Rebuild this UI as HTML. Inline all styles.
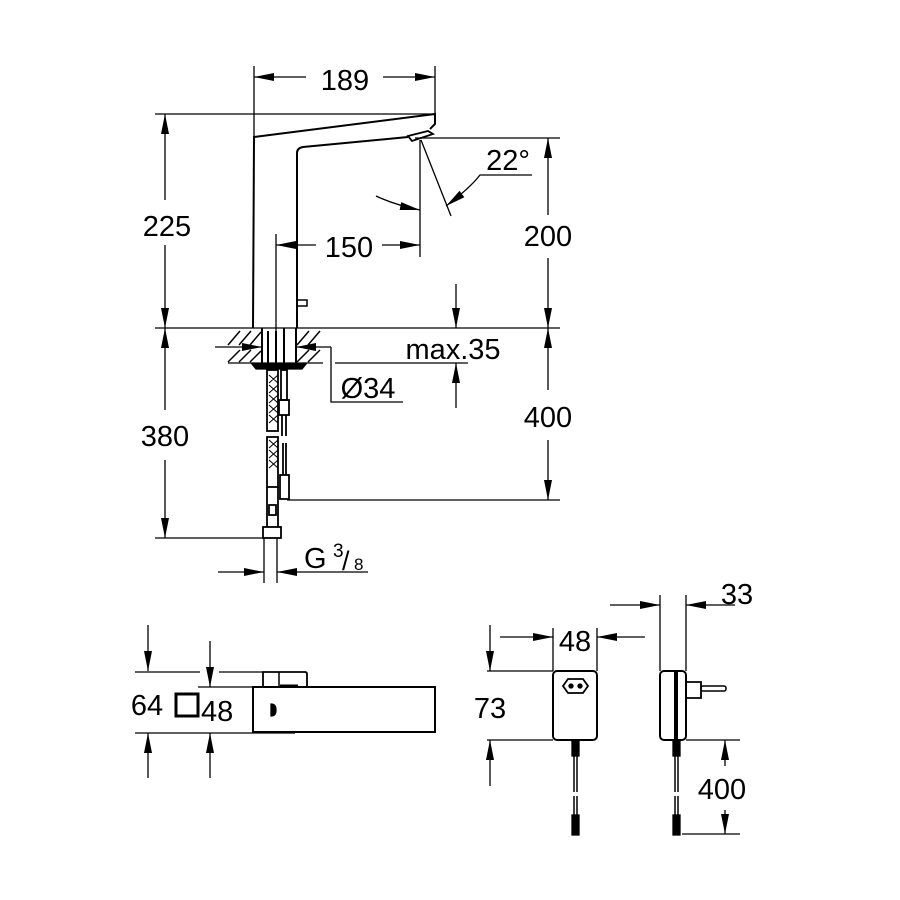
<!DOCTYPE html>
<html><head><meta charset="utf-8"><style>
html,body{margin:0;padding:0;background:#fff;}
svg{display:block;}
text{font-family:"Liberation Sans",Arial,sans-serif;fill:#000;}
</style></head><body>
<svg width="900" height="900" viewBox="0 0 900 900" xmlns="http://www.w3.org/2000/svg">
<defs>
<marker id="a" viewBox="0 0 20 8" refX="20" refY="4" markerWidth="20" markerHeight="8" markerUnits="userSpaceOnUse" orient="auto"><path d="M0,0 L20,4 L0,8 z" fill="#000"/></marker>
</defs>
<g stroke="#000" stroke-width="1.3" fill="none">
<!-- 189 -->
<line x1="254" y1="66" x2="254" y2="137"/>
<line x1="435" y1="66" x2="435" y2="114"/>
<line x1="306" y1="77" x2="254" y2="77" marker-end="url(#a)"/>
<line x1="383" y1="77" x2="435" y2="77" marker-end="url(#a)"/>
<!-- 225 -->
<line x1="155" y1="114" x2="435" y2="114"/>
<line x1="165" y1="200" x2="165" y2="114" marker-end="url(#a)"/>
<line x1="165" y1="245" x2="165" y2="328" marker-end="url(#a)"/>
<!-- faucet body -->
<path d="M253,328 L254,137 L435,114 L435,124 L430,129" stroke-width="2"/>
<path d="M297,328 L297,153 Q297,148 303,147 L408,137" stroke-width="2"/>
<path d="M408,136 L428,131 L433,134 L412,141 Z" stroke-width="1.8"/>
<path d="M297,300 L307,300 L307,306 L297,306" stroke-width="1.5"/>
<!-- 200 -->
<line x1="415" y1="138" x2="560" y2="138"/>
<line x1="548" y1="215" x2="548" y2="138" marker-end="url(#a)"/>
<line x1="548" y1="258" x2="548" y2="328" marker-end="url(#a)"/>
<!-- 150 -->
<line x1="420" y1="140" x2="420" y2="257"/>
<line x1="276" y1="234" x2="276" y2="335"/>
<line x1="316" y1="245" x2="276" y2="245" marker-end="url(#a)"/>
<line x1="382" y1="245" x2="420" y2="245" marker-end="url(#a)"/>
<!-- 22 deg -->
<line x1="421" y1="140" x2="451" y2="216"/>
<path d="M376,196 Q395,205 420,210" marker-end="url(#a)"/>
<path d="M532,175 L480,175 Q470,188 446,206" marker-end="url(#a)"/>
<!-- floor -->
<line x1="155" y1="328" x2="560" y2="328"/>
<path d="M228,345 L240,331 M239,345 L251,331 M250,345 L261,332 M228,362 L240,350 M239,362 L251,350 M250,362 L261,351 M297,345 L309,331 M308,345 L320,331 M297,362 L309,350 M308,362 L320,350" stroke-width="1.5"/>
<line x1="228" y1="363" x2="323" y2="363"/>
<line x1="262" y1="328" x2="262" y2="363" stroke-width="2"/>
<line x1="296" y1="328" x2="296" y2="363" stroke-width="2"/>
<line x1="268" y1="331" x2="268" y2="363" stroke-width="2"/>
<line x1="276" y1="331" x2="276" y2="363" stroke-width="2"/>
<line x1="284" y1="328" x2="284" y2="363" stroke-width="2"/>
<path d="M252,364 L306,364 L302,369 L256,369 Z" fill="#000"/>
<!-- max.35 -->
<line x1="456" y1="284" x2="456" y2="328" marker-end="url(#a)"/>
<line x1="456" y1="408" x2="456" y2="363" marker-end="url(#a)"/>
<line x1="335" y1="363" x2="468" y2="363"/>
<!-- Ø34 -->
<line x1="215" y1="347" x2="262" y2="347" marker-end="url(#a)"/>
<line x1="331" y1="347" x2="296" y2="347" marker-end="url(#a)"/>
<path d="M331,347 L331,402 L403,402"/>
<!-- hose -->
<g stroke-width="1.8">
<rect x="267" y="370" width="11" height="61"/>
<rect x="267" y="437" width="11" height="50"/>
<line x1="267" y1="487" x2="267" y2="527"/><line x1="278" y1="487" x2="278" y2="527"/>
<rect x="269" y="505" width="7" height="10"/>
<rect x="263" y="527" width="18" height="11"/>
<line x1="264" y1="538" x2="264" y2="583" stroke-width="1.3"/>
<line x1="277" y1="538" x2="277" y2="583" stroke-width="1.3"/>
<rect x="281" y="370" width="6" height="30"/>
<rect x="279" y="400" width="10" height="15"/>
<line x1="282" y1="415" x2="282" y2="436"/><line x1="286" y1="415" x2="286" y2="436"/>
<line x1="283" y1="443" x2="283" y2="475"/><line x1="286" y1="443" x2="286" y2="475"/>
<rect x="280" y="475" width="9" height="24"/>
</g>
<path d="M269,375 l9,8 M278,375 l-9,8 M269,385 l9,8 M278,385 l-9,8 M269,395 l9,8 M278,395 l-9,8 M269,405 l9,8 M278,405 l-9,8 M269,415 l9,8 M278,415 l-9,8 M269,440 l9,8 M278,440 l-9,8 M269,450 l9,8 M278,450 l-9,8 M269,460 l9,8 M278,460 l-9,8" stroke-width="1"/>
<!-- 380 -->
<line x1="165" y1="410" x2="165" y2="328" marker-end="url(#a)"/>
<line x1="165" y1="460" x2="165" y2="538" marker-end="url(#a)"/>
<line x1="155" y1="538" x2="266" y2="538"/>
<!-- 400 -->
<line x1="548" y1="390" x2="548" y2="328" marker-end="url(#a)"/>
<line x1="548" y1="440" x2="548" y2="500" marker-end="url(#a)"/>
<line x1="287" y1="500" x2="560" y2="500"/>
<!-- G3/8 -->
<line x1="218" y1="572" x2="264" y2="572" marker-end="url(#a)"/>
<line x1="368" y1="572" x2="277" y2="572" marker-end="url(#a)"/>

<!-- bottom left -->
<line x1="148" y1="625" x2="148" y2="671" marker-end="url(#a)"/>
<line x1="148" y1="778" x2="148" y2="733" marker-end="url(#a)"/>
<line x1="210" y1="641" x2="210" y2="687" marker-end="url(#a)"/>
<line x1="210" y1="778" x2="210" y2="733" marker-end="url(#a)"/>
<line x1="135" y1="672" x2="200" y2="672"/>
<line x1="219" y1="672" x2="263" y2="672"/>
<line x1="198" y1="687" x2="253" y2="687"/>
<line x1="135" y1="733" x2="295" y2="733"/>
<rect x="253" y="687" width="182" height="45" stroke-width="2"/>
<path d="M263,687 L263,672 L305,672 Q307,672 307,674 L307,687" stroke-width="1.8"/>
<line x1="279" y1="672" x2="279" y2="687" stroke-width="1.5"/>
<line x1="280" y1="686" x2="298" y2="686" stroke-width="3"/>
<rect x="176" y="694" width="22" height="22" stroke-width="3"/>
<path d="M271,704 Q276,704 276,710 Q276,716 271,716 Z" fill="#000"/>

<!-- power supply front -->
<line x1="553" y1="628" x2="553" y2="671"/>
<line x1="597" y1="628" x2="597" y2="671"/>
<line x1="500" y1="637" x2="553" y2="637" marker-end="url(#a)"/>
<line x1="645" y1="637" x2="597" y2="637" marker-end="url(#a)"/>
<line x1="490" y1="625" x2="490" y2="671" marker-end="url(#a)"/>
<line x1="490" y1="786" x2="490" y2="740" marker-end="url(#a)"/>
<line x1="487" y1="671" x2="553" y2="671"/>
<line x1="487" y1="740" x2="553" y2="740"/>
<rect x="553" y="671" width="44" height="69" rx="4" stroke-width="2"/>
<path d="M563,686 L568,679 L583,679 L588,686 L583,693 L568,693 Z" stroke-width="1.8"/>
<circle cx="571" cy="686" r="2" fill="#000"/><circle cx="580" cy="686" r="2" fill="#000"/>
<rect x="572" y="740" width="7" height="16" fill="#000"/>
<line x1="574" y1="756" x2="574" y2="792" stroke-width="1.5"/><line x1="577" y1="756" x2="577" y2="792" stroke-width="1.5"/>
<line x1="574" y1="796" x2="574" y2="815" stroke-width="1.5"/><line x1="577" y1="796" x2="577" y2="815" stroke-width="1.5"/>
<rect x="572" y="815" width="7" height="20" fill="#000"/>
<!-- side -->
<line x1="660" y1="595" x2="660" y2="671"/>
<line x1="686" y1="595" x2="686" y2="671"/>
<line x1="610" y1="605" x2="660" y2="605" marker-end="url(#a)"/>
<line x1="735" y1="605" x2="686" y2="605" marker-end="url(#a)"/>
<rect x="660" y="671" width="26" height="69" rx="4" stroke-width="2"/>
<line x1="676" y1="671" x2="676" y2="740" stroke-width="4"/>
<path d="M686,682 L701,682 L701,698 L686,698" stroke-width="1.8"/>
<rect x="701" y="686" width="25" height="5" rx="2" stroke-width="1.5"/>
<rect x="673" y="740" width="7" height="16" fill="#000"/>
<line x1="675" y1="756" x2="675" y2="792" stroke-width="1.5"/><line x1="678" y1="756" x2="678" y2="792" stroke-width="1.5"/>
<line x1="675" y1="796" x2="675" y2="815" stroke-width="1.5"/><line x1="678" y1="796" x2="678" y2="815" stroke-width="1.5"/>
<rect x="673" y="815" width="7" height="20" fill="#000"/>
<line x1="686" y1="740" x2="740" y2="740"/>
<line x1="682" y1="834" x2="740" y2="834"/>
<line x1="725" y1="766" x2="725" y2="740" marker-end="url(#a)"/>
<line x1="725" y1="810" x2="725" y2="834" marker-end="url(#a)"/>
</g>
<g font-size="29">
<text x="345" y="90" text-anchor="middle">189</text>
<text x="167" y="236" text-anchor="middle">225</text>
<text x="548" y="246" text-anchor="middle">200</text>
<text x="349" y="257" text-anchor="middle">150</text>
<text x="508" y="170" text-anchor="middle">22°</text>
<text x="453" y="359" text-anchor="middle">max.35</text>
<text x="368" y="398" text-anchor="middle">Ø34</text>
<text x="165" y="446" text-anchor="middle">380</text>
<text x="548" y="427" text-anchor="middle">400</text>
<text x="304" y="568">G</text>
<text x="333" y="557" font-size="19">3</text>
<text x="342" y="570" font-size="27">/</text>
<text x="354" y="570" font-size="17">8</text>
<text x="147" y="715" text-anchor="middle">64</text>
<text x="201" y="721">48</text>
<text x="575" y="651" text-anchor="middle">48</text>
<text x="490" y="718" text-anchor="middle">73</text>
<text x="737" y="604" text-anchor="middle">33</text>
<text x="722" y="799" text-anchor="middle">400</text>
</g>
</svg>
</body></html>
